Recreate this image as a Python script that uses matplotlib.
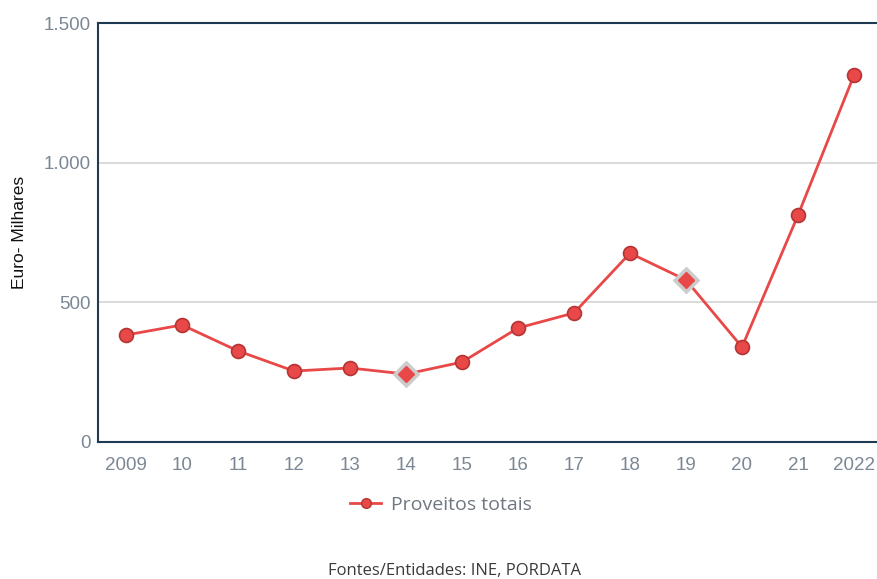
import matplotlib
matplotlib.use("Agg")
import matplotlib.pyplot as plt
from matplotlib.lines import Line2D

years = ["2009", "10", "11", "12", "13", "14", "15", "16", "17", "18", "19", "20", "21", "2022"]
values = [383, 419, 326, 254, 265, 243, 286, 408, 462, 676, 580, 340, 812, 1313]
diamond_years = ["14", "19"]
series_name = "Proveitos totais"
y_ticks = [0, 500, 1000, 1500]
y_tick_labels = ["0", "500", "1.000", "1.500"]

line_color = "#e84848"
edge_color = "#b53434"
tick_color = "#7b8794"
spine_color = "#1f3b53"

fig = plt.figure(figsize=(8.77, 5.79), dpi=100)
ax = fig.add_axes([98/877, 137/579, 784/877, 419/579])

x = list(range(len(years)))
ax.plot(x, values, color=line_color, lw=2, zorder=3)
for xi, yr, v in zip(x, years, values):
    if yr in diamond_years:
        ax.plot(xi, v, marker="D", ms=13, mfc="#cccccc", mec="#cccccc", zorder=4)
        ax.plot(xi, v, marker="D", ms=8, mfc=line_color, mec=line_color, zorder=5)
    else:
        ax.plot(xi, v, marker="o", ms=10, mfc=line_color, mec=edge_color, mew=1.2, zorder=5)

ax.set_xlim(-0.5, len(years) - 0.5)
ax.set_ylim(0, 1500)
ax.set_xticks(x)
ax.set_xticklabels(years)
ax.set_yticks(y_ticks)
ax.set_yticklabels(y_tick_labels)
ax.tick_params(axis="both", length=0, labelcolor=tick_color, labelsize=13.5)
ax.tick_params(axis="x", pad=11)
ax.tick_params(axis="y", pad=5)
for lab in ax.get_xticklabels() + ax.get_yticklabels():
    lab.set_fontfamily("Liberation Sans")
ax.grid(axis="y", color="#d3d3d3", lw=1.2)
ax.set_axisbelow(True)
for s in ["left", "top", "bottom"]:
    ax.spines[s].set_color(spine_color)
    ax.spines[s].set_linewidth(1.5)
ax.spines["right"].set_visible(False)

ax.set_ylabel("Euro- Milhares", fontsize=12.5, family="Liberation Sans", color="#111111", labelpad=12)

handle = Line2D([], [], color=line_color, lw=2, marker="o", ms=7, mfc=line_color, mec=edge_color)
fig.legend([handle], [series_name], loc="center", bbox_to_anchor=(441/877, 1 - 505/579),
           frameon=False, prop={"family": "Open Sans", "size": 14}, labelcolor="#6f7780",
           handlelength=1.6, handletextpad=0.5)

fig.text(454/877, 1 - 571/579, "Fontes/Entidades: INE, PORDATA", ha="center", va="center",
         fontsize=12, family="Open Sans", color="#3a3a3a")

fig.savefig("out.png", dpi=100)
